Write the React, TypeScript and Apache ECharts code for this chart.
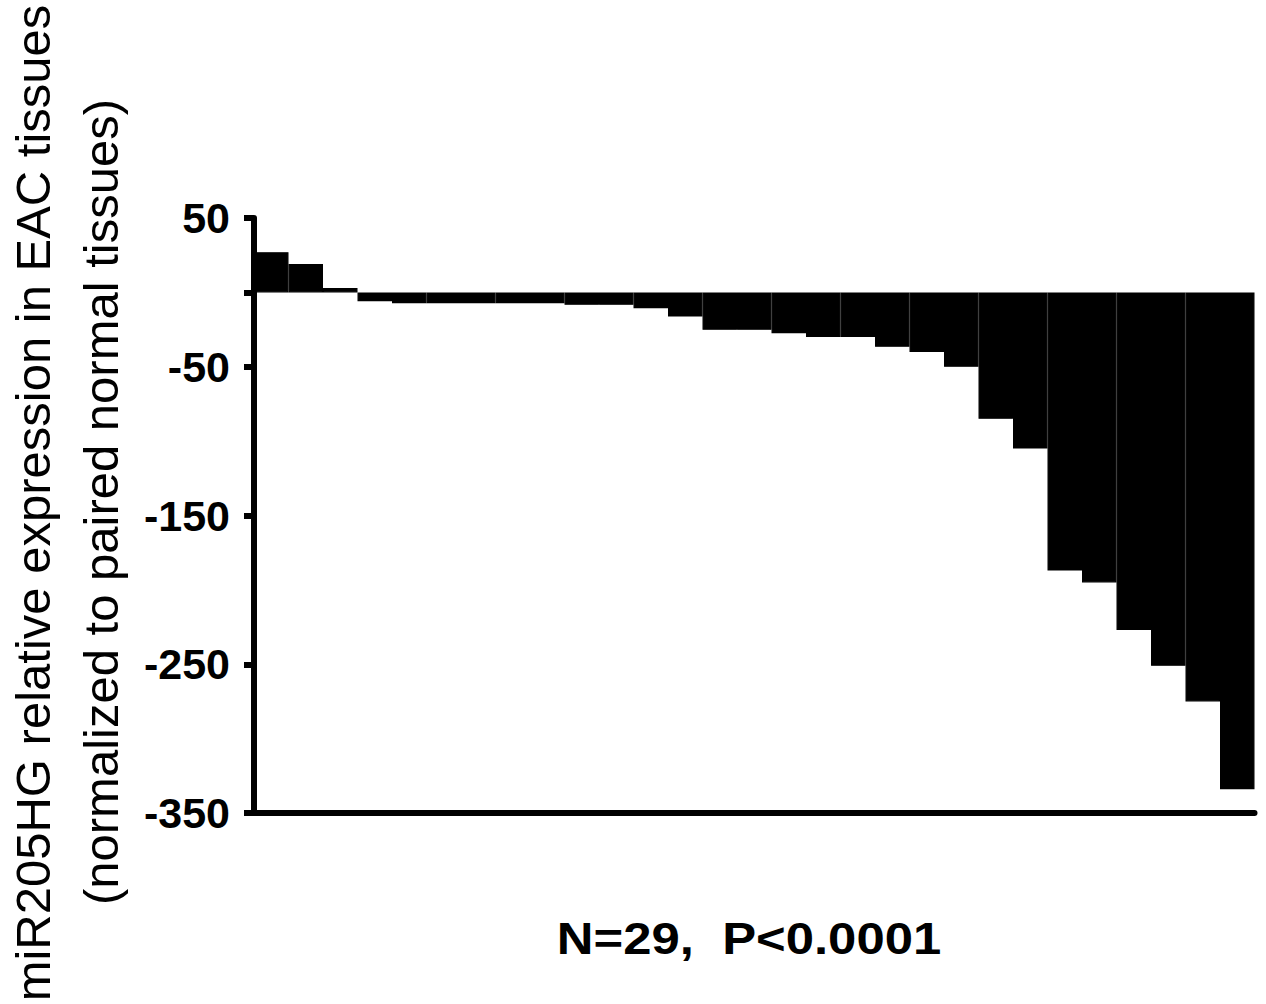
import React, { useEffect, useRef } from "react";
import * as echarts from "echarts";

const categories: string[] = Array.from({ length: 29 }, (_, i) => `S${i + 1}`);
const values: number[] = [
  27, 19, 3, -6, -7.3, -7.3, -7.3, -7.3, -7.3, -8.4, -8.4, -10.6, -16.3, -25.2, -25.2,
  -27.4, -30, -30, -36.6, -40, -50, -85, -105, -187, -195, -227, -251, -275, -334,
];
const yMin = -350;
const yMax = 50;
const yLabelValues: number[] = [50, -50, -150, -250, -350];
const yTickValues: number[] = [50, 0, -50, -150, -250, -350];
const yTitleLine1 = "miR205HG relative expression in EAC tissues";
const yTitleLine2 = "(normalized to paired normal tissues)";
const xTitle = "N=29,  P<0.0001";

const FONT = "'Liberation Sans', Arial, Helvetica, sans-serif";

export default function App() {
  const ref = useRef<HTMLDivElement>(null);
  useEffect(() => {
    if (!ref.current) return;
    const chart = echarts.init(ref.current, undefined, { renderer: "svg" });
    chart.setOption({
      animation: false,
      backgroundColor: "#ffffff",
      grid: { left: 254, right: 11.5, top: 218, bottom: 191, containLabel: false },
      xAxis: {
        type: "category",
        data: categories,
        axisLine: { show: true, onZero: false, lineStyle: { color: "#000", width: 6 } },
        axisTick: { show: false },
        axisLabel: { show: false },
        splitLine: { show: false },
      },
      yAxis: {
        type: "value",
        min: yMin,
        max: yMax,
        axisLine: { show: true, lineStyle: { color: "#000", width: 6 } },
        axisTick: {
          show: true,
          length: 10,
          customValues: yTickValues,
          lineStyle: { color: "#000", width: 6 },
        },
        axisLabel: {
          show: true,
          customValues: yLabelValues,
          margin: 24,
          color: "#000",
          fontSize: 43,
          fontWeight: "bold",
          fontFamily: FONT,
        },
        splitLine: { show: false },
      },
      series: [
        {
          type: "bar",
          data: values,
          barCategoryGap: "0%",
          itemStyle: { color: "#000", borderColor: "#000", borderWidth: 1.2 },
        },
      ],
      graphic: [
        {
          type: "text",
          x: 32.5,
          y: 503,
          rotation: Math.PI / 2,
          style: {
            text: yTitleLine1,
            fill: "#000",
            fontSize: 49,
            fontFamily: FONT,
            align: "center",
            verticalAlign: "middle",
            textAlign: "center",
            textVerticalAlign: "middle",
          },
        },
        {
          type: "text",
          x: 100.5,
          y: 502,
          rotation: Math.PI / 2,
          style: {
            text: yTitleLine2,
            fill: "#000",
            fontSize: 49,
            fontFamily: FONT,
            align: "center",
            verticalAlign: "middle",
            textAlign: "center",
            textVerticalAlign: "middle",
          },
        },
        {
          type: "text",
          x: 749,
          y: 939,
          scaleX: 1.13,
          style: {
            text: xTitle,
            fill: "#000",
            fontSize: 45,
            fontWeight: "bold",
            fontFamily: FONT,
            align: "center",
            verticalAlign: "middle",
            textAlign: "center",
            textVerticalAlign: "middle",
          },
        },
      ],
    });
    return () => chart.dispose();
  }, []);
  return (
    <div
      ref={ref}
      style={{ position: "fixed", left: 0, top: 0, width: 1266, height: 1004, background: "#fff" }}
    />
  );
}
